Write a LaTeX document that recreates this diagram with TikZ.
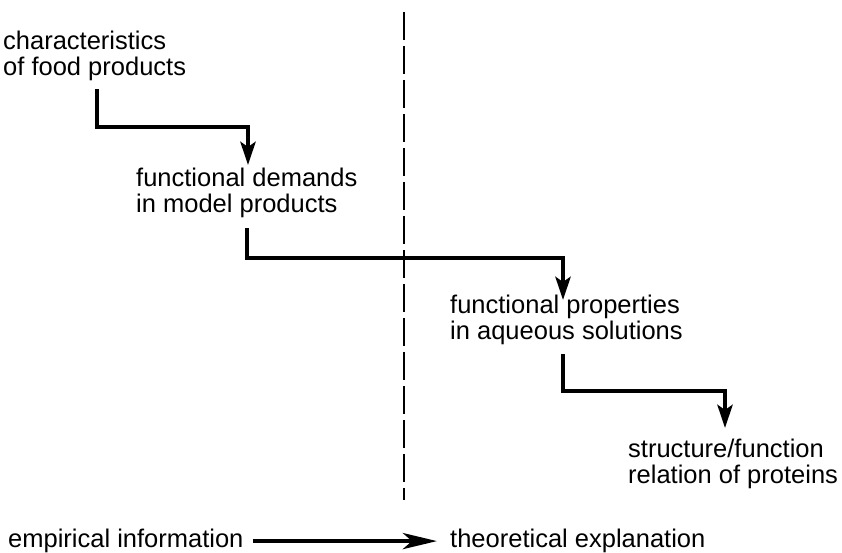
\documentclass[tikz,border=0pt]{standalone}
\usepackage{fontspec}
\setmainfont{Liberation Sans}
\usetikzlibrary{arrows.meta}
\begin{document}
\begin{tikzpicture}[x=1pt,y=-1pt,
  label/.style={anchor=north west,inner sep=0pt,align=left,
    font=\fontsize{25.5}{26}\selectfont},
  flow/.style={line width=4.5pt,line join=miter,
    -{Stealth[length=23pt,width=15pt,inset=5pt]}},
  direction/.style={line width=4.5pt,
    -{Stealth[length=34pt,width=16pt,inset=9pt]}},
  divider/.style={line width=1.2pt,dash pattern=on 28pt off 6pt}]
\useasboundingbox (0,0) rectangle (842,552);

% stages, from food products down to protein structure
\node[label] (a) at (3,31)  {characteristics\\of food products};
\node[label] (b) at (136,168) {functional demands\\in model products};
\node[label] (c) at (450,295) {functional properties\\in aqueous solutions};
\node[label] (d) at (628,439) {structure/function\\relation of proteins};

% stepped connectors between stages
\draw[flow] ([shift={(94,8)}]a.south west) -- ++(0,38)
  -| ([shift={(112,-3)}]b.north west);
\draw[flow] ([shift={(111,10)}]b.south west) -- ++(0,30)
  -| ([shift={(113,5)}]c.north west);
\draw[flow] ([shift={(113,9)}]c.south west) -- ++(0,37)
  -| ([shift={(97,-11)}]d.north west);

% dashed separator
\coordinate (top) at (404,12);
\coordinate (bottom) at (404,500);
\draw[divider] (top) -- (bottom);

% axis along the bottom
\node[label] (e) at (8,529) {empirical information};
\node[label] (f) at (450,529) {theoretical explanation};
\draw[direction] ([xshift=9pt]e.east) -- ([xshift=-13pt]f.west);
\end{tikzpicture}
\end{document}
